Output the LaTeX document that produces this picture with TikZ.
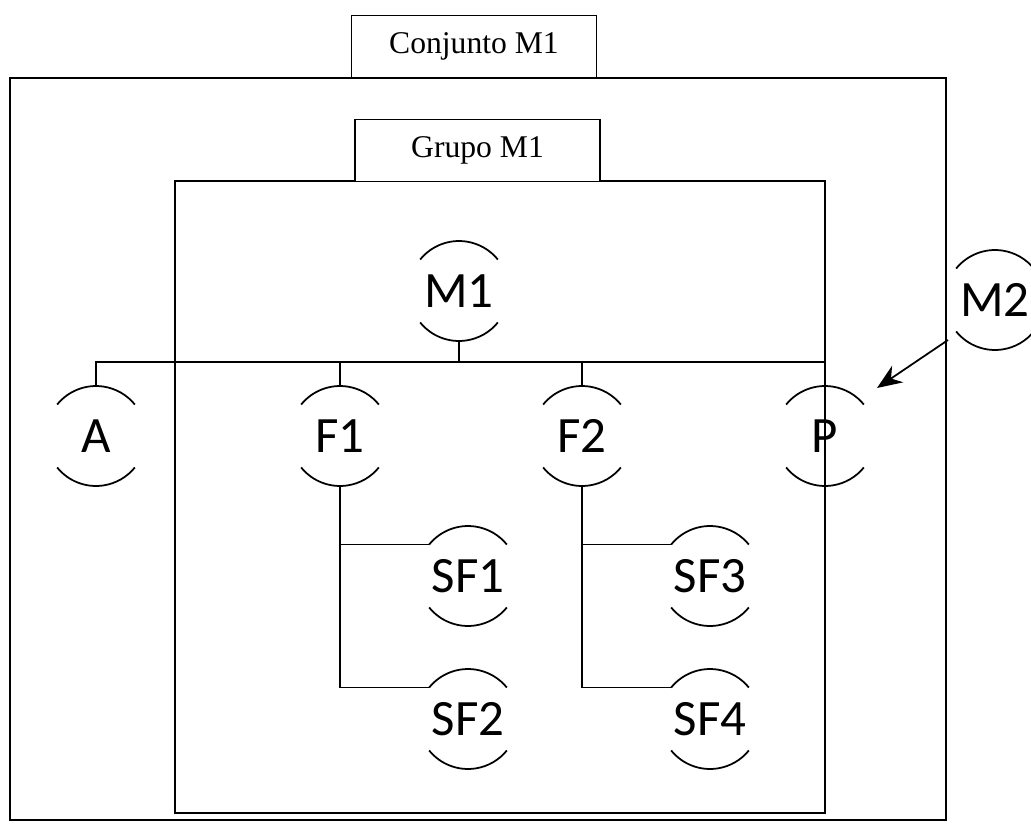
\documentclass[tikz,border=0pt]{standalone}
\usepackage{fontspec}
\setmainfont{Liberation Serif}
\newfontfamily\itemfont{Carlito}
\usetikzlibrary{arrows.meta}
\tikzset{
  item/.style={circle, minimum size=2cm, inner sep=0pt, outer sep=0pt,
    font=\itemfont\fontsize{29}{29}\selectfont},
  tag/.style={draw, fill=white, line width=0.9pt, minimum width=4.9cm,
    minimum height=1.24cm, inner sep=0pt, font=\fontsize{18}{22}\selectfont},
  frame/.style={line width=0.9pt}
}
\begin{document}
\begin{tikzpicture}[x=0.02cm, y=-0.02cm, line width=1pt]
      \useasboundingbox (0,0) rectangle (1031,835);
      % conjunto and grupo
      \draw[frame] (10,78) rectangle (946,820);
      \draw[frame] (175,181) rectangle (825,813);
      \node[tag] (conj) at (474,46.5) {Conjunto M1};
      \node[tag] (grupo) at (477.5,150.5) {Grupo M1};
      \draw
        (459,291) node[item] (m1){M1}
        (96,436) node[item] (a){A}
        (340,436) node[item] (f1){F1}
        (582,436) node[item] (f2){F2}
        (825,436) node[item] (p){P}
        (468,576) node[item] (sf1){SF1}
        (468,719) node[item] (sf2){SF2}
        (710,576) node[item] (sf3){SF3}
        (710,719) node[item] (sf4){SF4}
        (995,300) node[item] (m2){M2};
      \foreach \n in {m1,a,f1,f2,p,sf1,sf2,sf3,sf4,m2}
        \draw (\n.141) arc[start angle=141, end angle=39, radius=1cm]
              (\n.219) arc[start angle=219, end angle=321, radius=1cm];
      \coordinate (bus) at (459,362);
      \coordinate (tail) at (948,340);
      \coordinate (head) at (877,388);
      \begin{scope}[-]
        \draw (m1.south) -- (bus);
        \draw (a.north) |- (bus) -| (p.north);
        \draw (f1.north) -- (f1.north |- bus);
        \draw (f2.north) -- (f2.north |- bus);
        \draw (f1.south) |- (sf2.141);
        \draw (f1.south |- sf1.141) -- (sf1.141);
        \draw (f2.south) |- (sf4.141);
        \draw (f2.south |- sf3.141) -- (sf3.141);
      \end{scope}
      \draw[-{Stealth[length=0.5cm, width=0.4cm]}] (tail) -- (head);
    \end{tikzpicture}
\end{document}
